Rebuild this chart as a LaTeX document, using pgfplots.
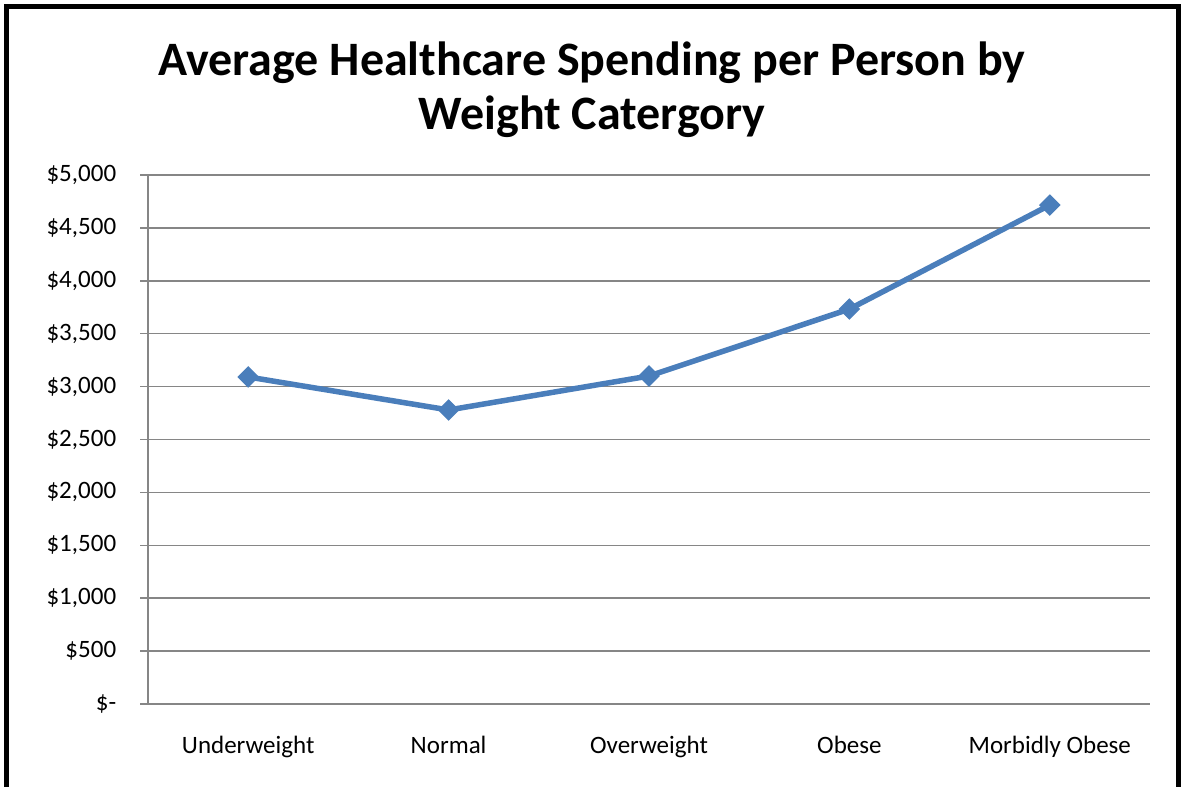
\documentclass[border=0pt]{standalone}
\usepackage{fontspec}
\setmainfont{Carlito}
\usepackage{pgfplots}
\pgfplotsset{compat=1.18}
\definecolor{linecol}{RGB}{74,126,187}
\definecolor{gridcol}{RGB}{134,134,134}
\begin{document}
\begin{tikzpicture}[x=0.4pt,y=0.4pt]
\useasboundingbox (0,0) rectangle (1181,787);
\fill[white] (0,0) rectangle (1181,787);
\draw[line width=1.8pt] (6.5,-20) -- (6.5,780.5) -- (1178.5,780.5) -- (1178.5,-20);
\node[align=center,font=\fontsize{19.2}{21.5}\selectfont\bfseries] at (592,697) {Average Healthcare Spending per Person by\\Weight Catergory};
\begin{axis}[
  at={(59.2pt,33.2pt)}, anchor=south west,
  scale only axis, width=400.8pt, height=211.6pt,
  xmin=-0.5, xmax=4.5, ymin=0, ymax=5000,
  xtick={0,1,2,3,4},
  xticklabels={Underweight,Normal,Overweight,Obese,Morbidly Obese},
  extra x ticks={-0.5,0.5,1.5,2.5,3.5,4.5},
  extra x tick labels={},
  extra x tick style={major tick length=3.2pt, tick style={gridcol, line width=0.6pt}},
  x tick style={draw=none},
  ytick={0,500,...,5000},
  yticklabels={\$-,\$500,{\$1,000},{\$1,500},{\$2,000},{\$2,500},{\$3,000},{\$3,500},{\$4,000},{\$4,500},{\$5,000}},
  ymajorgrids, grid style={gridcol, line width=0.6pt},
  y tick style={gridcol, line width=0.6pt},
  tick align=outside, major tick length=3.2pt,
  axis line style={gridcol, line width=0.6pt},
  axis x line*=bottom, axis y line*=left,
  tick label style={font=\fontsize{10}{12}\selectfont},
  yticklabel style={xshift=-6pt},
  xticklabel style={yshift=-6pt},
  /pgf/number format/assume math mode=true,
  clip=false,
]
\addplot[linecol, line width=2.2pt, mark=square*, mark size=2.8pt, mark options={fill=linecol, draw=linecol, line width=0.5pt, rotate=45}]
  coordinates {(0,3091) (1,2779) (2,3100) (3,3733) (4,4716)};
\end{axis}
\end{tikzpicture}
\end{document}
